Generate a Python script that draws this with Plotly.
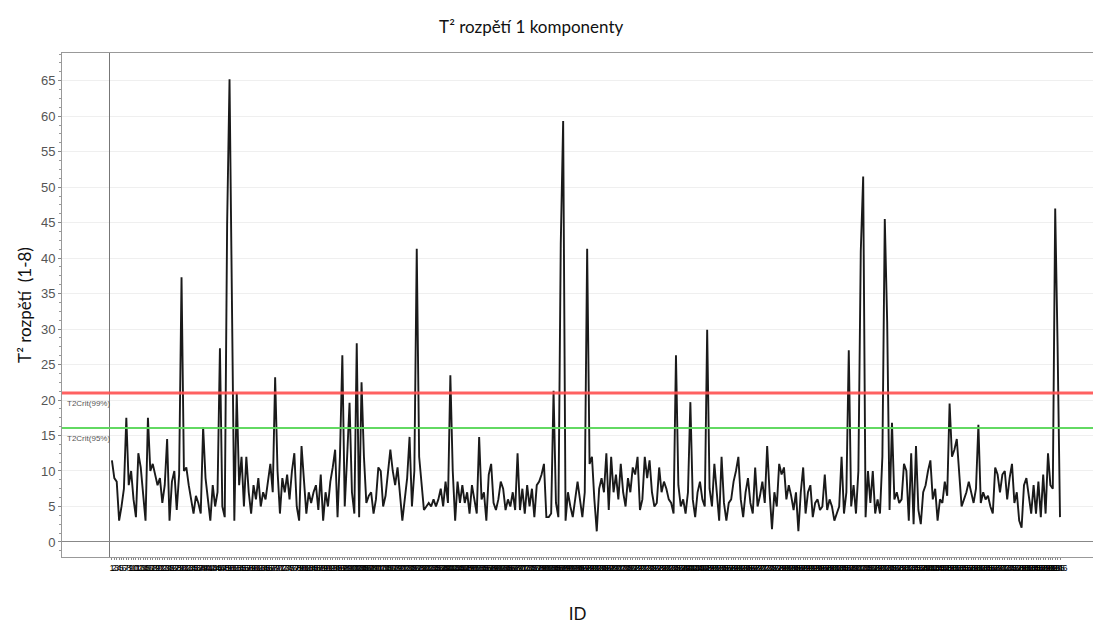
import plotly.graph_objects as go

# ---- data ----
t2_values = [
    11.5, 9, 8.5, 3, 5, 7.5, 17.5, 8, 10, 6,
    3.5, 12.5, 10.5, 7, 3, 17.5, 10, 11, 9.5, 8,
    9, 5.5, 8, 14.5, 3, 8.5, 10, 4.5, 9.5, 37.3,
    10, 10.5, 8, 6, 4, 6.5, 5.5, 4, 16.2, 9,
    6, 3, 8, 5, 7, 27.3, 5, 3.5, 44.8, 65.2,
    34, 3, 21, 8, 12, 5, 12, 7, 4, 8,
    6, 9, 5, 7, 6, 8.5, 11, 7, 23.2, 10,
    4, 9, 7, 9.5, 6, 10, 12.5, 5, 3, 13.5,
    8, 4, 7, 5.5, 7, 8, 4.5, 9.5, 3, 7,
    5, 8.5, 10.5, 13, 3.5, 12, 26.3, 5, 12, 19.6,
    7, 4, 28, 3.5, 22.5, 12, 5.5, 6.5, 7, 4,
    6, 10.5, 10, 5, 6.5, 9.5, 13, 10, 8, 10.5,
    7, 3, 6, 9, 14.8, 5, 10, 41.3, 12, 8,
    4.5, 5, 5.5, 5, 6, 5, 6, 7.5, 5, 8.5,
    5.5, 23.5, 10, 3, 8.5, 5.5, 8, 5.5, 7, 4,
    8, 6, 4, 14.8, 6, 7, 3, 9.5, 11, 5.5,
    4.5, 6, 8.5, 7.5, 4.5, 6, 5, 7, 4.5, 12.5,
    4.5, 7.5, 4, 8, 5, 7.5, 3.5, 8, 8.5, 9.5,
    11, 3.5, 3.5, 4, 21.3, 5.5, 3.5, 42, 59.3, 3,
    7, 5, 3.5, 6, 8.5, 6, 3.5, 7, 41.3, 11,
    12, 6, 1.5, 7.5, 9, 7, 12.5, 4.5, 12, 7,
    9.5, 6, 11, 7, 5, 9, 7, 10.5, 9.5, 12,
    4.5, 6, 12, 9, 11.5, 7, 5, 5.5, 10.5, 7,
    8.5, 7.5, 6, 5.5, 4, 26.3, 8, 5, 6, 4,
    7, 19.7, 6, 3.5, 7, 8.5, 6, 5, 29.9, 7.5,
    5, 11, 7, 3, 12, 5.5, 3, 5.5, 6, 8.5,
    10, 12, 6, 3.5, 7, 9, 5.5, 4, 10.5, 5,
    6.5, 8.5, 5.5, 13.5, 7, 1.8, 7, 5, 11, 9.5,
    10.5, 6, 8, 6.5, 4.5, 7, 1.5, 7, 10.5, 4,
    7, 8, 3.5, 5.5, 6, 4.5, 5, 9.5, 4.5, 6,
    5, 3, 4, 5, 12, 4, 7, 27, 5, 8,
    4, 10, 41, 51.5, 3.5, 10, 5.5, 10, 4, 6,
    4, 12, 45.5, 31, 4.5, 16.8, 6, 7, 5.5, 6,
    11, 10, 3, 12.5, 2.5, 13.5, 4.5, 2.5, 7, 8,
    10, 11.5, 6, 7.5, 3, 6, 5.5, 8.5, 6.5, 19.5,
    12, 13, 14.5, 10, 5, 6, 7, 8.5, 7, 5.5,
    7.5, 16.5, 5.5, 7, 6, 6.5, 5, 4, 10.5, 9.5,
    7, 9.5, 10, 6, 9, 11, 5.5, 7, 3, 2,
    8, 9, 6.5, 4, 8, 4, 8.5, 3.5, 9.5, 4,
    12.5, 8, 7.5, 47, 27.5, 3.5,
]
ids = list(range(1, len(t2_values) + 1))
id_labels = [str(i) for i in ids]

t2crit_99 = 21.0
t2crit_95 = 16.05
crit_labels = ["T2Crit(99%)", "T2Crit(95%)"]
y_ticks = list(range(0, 70, 5))

fig = go.Figure()
fig.add_trace(go.Scatter(
    x=ids, y=t2_values, mode="lines",
    line=dict(color="#1a1a1a", width=1.9),
    showlegend=False, hoverinfo="x+y",
))

fig.add_shape(type="line", xref="paper", x0=0, x1=1, y0=t2crit_99, y1=t2crit_99,
              line=dict(color="rgba(255,80,80,0.9)", width=3), layer="above")
fig.add_shape(type="line", xref="paper", x0=0, x1=1, y0=t2crit_95, y1=t2crit_95,
              line=dict(color="rgba(90,215,90,0.95)", width=2), layer="above")

fig.add_annotation(xref="paper", x=0.003, y=t2crit_99 - 0.6, text=crit_labels[0],
                   showarrow=False, xanchor="left", yanchor="top",
                   font=dict(family="Liberation Sans", size=8, color="#555"))
fig.add_annotation(xref="paper", x=0.003, y=t2crit_95 - 0.6, text=crit_labels[1],
                   showarrow=False, xanchor="left", yanchor="top",
                   font=dict(family="Liberation Sans", size=8, color="#555"))

fig.update_layout(
    width=1093, height=624,
    margin=dict(l=62, r=0, t=53, b=67),
    paper_bgcolor="white", plot_bgcolor="white",
    title=dict(text="T² rozpětí 1 komponenty", x=0.486, xanchor="center",
               y=0.957, yanchor="middle",
               font=dict(family="Lato", size=17, color="#111")),
    xaxis=dict(
        range=[-19.8, 409.75],
        tickmode="array", tickvals=ids, ticktext=id_labels, tickangle=0,
        tickfont=dict(family="Liberation Sans", size=9, color="#000"),
        ticks="outside", ticklen=2, tickcolor="#888",
        showgrid=False,
        zeroline=True, zerolinecolor="#777", zerolinewidth=1,
        showline=True, linecolor="#999", linewidth=1, mirror=True,
        title=dict(text="ID", standoff=36,
                   font=dict(family="Lato", size=17, color="#111")),
    ),
    yaxis=dict(
        range=[-2.12, 68.9],
        tickmode="array", tickvals=y_ticks,
        tickfont=dict(family="Liberation Sans", size=13, color="#555"),
        ticks="outside", ticklen=3, tickcolor="#888",
        minor=dict(dtick=1.25, ticks="outside", ticklen=2, tickcolor="#999", showgrid=False),
        showgrid=True, gridcolor="#efefef", gridwidth=1,
        zeroline=True, zerolinecolor="#888", zerolinewidth=1,
        showline=True, linecolor="#999", linewidth=1, mirror=True,
        title=dict(text="T² rozpětí  (1-8)", standoff=4,
                   font=dict(family="Lato", size=17, color="#111")),
    ),
)

fig.write_html("out.html")
